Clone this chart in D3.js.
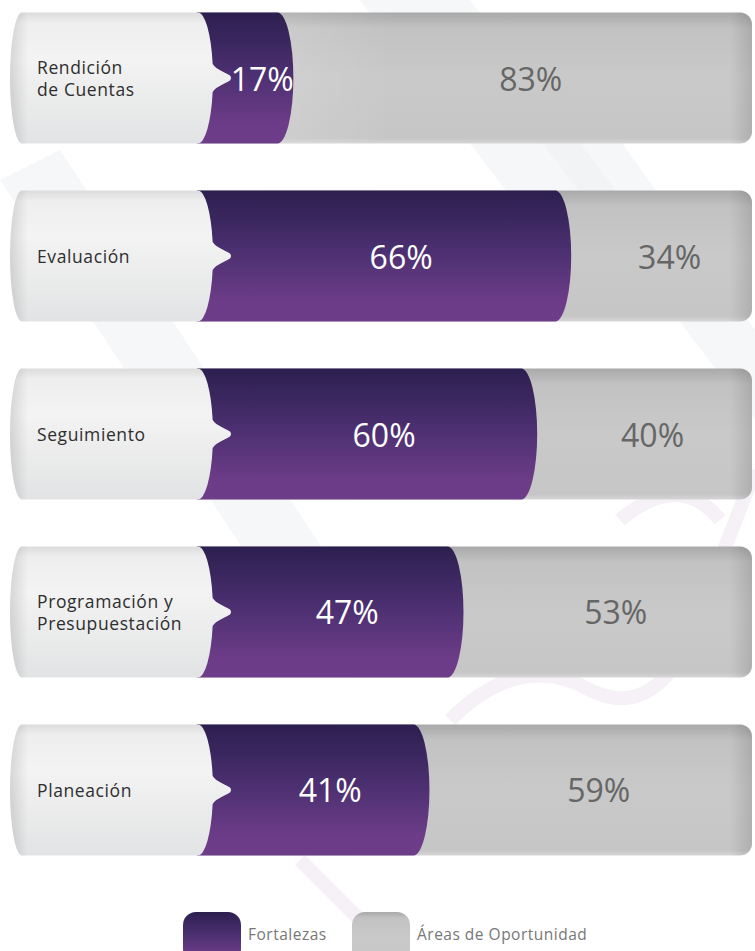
<!DOCTYPE html>
<html>
<head>
<meta charset="utf-8">
<script src="https://cdn.jsdelivr.net/npm/d3@7"></script>
<style>
  body { margin: 0; background: #fff; }
  svg { display: block; }
</style>
</head>
<body>
<svg id="chart"></svg>
<script>
// data
const categories = ["Rendición de Cuentas", "Evaluación", "Seguimiento", "Programación y Presupuestación", "Planeación"];
const labelLines = [["Rendición", "de Cuentas"], ["Evaluación"], ["Seguimiento"], ["Programación y", "Presupuestación"], ["Planeación"]];
const fortalezas = [17, 66, 60, 47, 41];
const oportunidad = [83, 34, 40, 53, 59];
const legendLabels = ["Fortalezas", "Áreas de Oportunidad"];

const width = 755, height = 951;
const svg = d3.select("#chart").attr("width", width).attr("height", height);

const y = d3.scaleBand().domain(categories).range([12.5, 855.5]).paddingInner(0.264).paddingOuter(0);
const x = d3.scaleLinear().domain([0, 100]).range([197, 764]);
const xEnd = 752;      // right edge of the gray track
const capLeft = 10;
const endRx = 16;      // curvature of the purple end
const tipX = x(0) + 34;

const defs = svg.append("defs");
function grad(id, stops, vertical = true) {
    let g = defs.append("linearGradient").attr("id", id)
        .attr("x1", 0).attr("y1", 0).attr("x2", vertical ? 0 : 1).attr("y2", vertical ? 1 : 0);
    stops.forEach(s => g.append("stop").attr("offset", s[0]).attr("stop-color", s[1]).attr("stop-opacity", s[2] == null ? 1 : s[2]));
}
grad("purpleGrad", [[0, "#2c1f4f"], [0.45, "#4b2f70"], [0.85, "#6c3c88"], [1, "#6e3d89"]]);
grad("grayGrad", [[0, "#a9a9a9"], [0.12, "#c2c2c2"], [0.5, "#c9c9c9"], [0.96, "#c6c6c6"], [1, "#d6d6d6"]]);
grad("grayShade", [[0, "#ffffff", 0.25], [0.35, "#ffffff", 0], [0.96, "#000000", 0], [1, "#000000", 0.12]], false);
grad("capGrad", [[0, "#dcdcdc"], [0.08, "#eeeeee"], [0.35, "#f3f3f3"], [1, "#e2e3e4"]]);
grad("capShade", [[0, "#000000", 0.12], [0.08, "#000000", 0], [1, "#000000", 0]], false);

// faint background watermark
const bg = svg.append("g");
[[[360, 0], [470, 0], [700, 300], [590, 300]],
 [[0, 180], [60, 150], [330, 560], [270, 590]],
 [[540, 140], [620, 140], [755, 330], [755, 420]]].forEach(p => {
    bg.append("path").attr("d", d3.line()(p) + "Z").attr("fill", "#eef0f2").attr("opacity", 0.5);
});
bg.append("path")
    .attr("d", "M 300 860 L 380 940 M 450 720 Q 520 650 590 690 Q 650 720 690 640 Q 720 560 755 470")
    .attr("fill", "none").attr("stroke", "#e8dfec").attr("stroke-width", 14).attr("opacity", 0.45);
bg.append("path")
    .attr("d", "M 620 520 Q 680 470 720 520")
    .attr("fill", "none").attr("stroke", "#e8dfec").attr("stroke-width", 14).attr("opacity", 0.45);

const rows = svg.append("g").selectAll("g.row")
    .data(categories.map((c, i) => ({ cat: c, lines: labelLines[i], f: fortalezas[i], o: oportunidad[i] })))
    .join("g").attr("class", "row");

// gray track
function trackPath(d) {
    let t = y(d.cat), b = t + y.bandwidth(), r = 12, x0 = x(0);
    return `M${x0},${t} H${xEnd - r} A${r},${r} 0 0 1 ${xEnd},${t + r} V${b - r} A${r},${r} 0 0 1 ${xEnd - r},${b} H${x0} Z`;
}
rows.append("path").attr("d", trackPath).attr("fill", "url(#grayGrad)");
rows.append("path").attr("d", trackPath).attr("fill", "url(#grayShade)");

// purple bar with rounded cylinder end
rows.append("path")
    .attr("d", d => {
        let t = y(d.cat), b = t + y.bandwidth(), ry = y.bandwidth() / 2, xv = x(d.f);
        return `M${x(0)},${t} H${xv - endRx} A${endRx},${ry} 0 0 1 ${xv - endRx},${b} H${x(0)} Z`;
    })
    .attr("fill", "url(#purpleGrad)");

// label cap with pointer
function capPath(d) {
    let t = y(d.cat), h = y.bandwidth(), b = t + h, m = t + h / 2, ry = h / 2;
    let cx = x(0) + 1, rx = 15, dy = 14;
    let px = cx + rx * Math.sqrt(1 - (dy / ry) ** 2);
    return `M${capLeft + 12},${t} H${cx} A${rx},${ry} 0 0 1 ${px},${m - dy}` +
        ` C${px + 4},${m - 8} ${tipX - 8},${m - 7} ${tipX - 1},${m - 2.5} Q${tipX + 1},${m} ${tipX - 1},${m + 2.5}` +
        ` C${tipX - 8},${m + 7} ${px + 4},${m + 8} ${px},${m + dy}` +
        ` A${rx},${ry} 0 0 1 ${cx},${b} H${capLeft + 12} A12,${ry} 0 0 1 ${capLeft + 12},${t} Z`;
}
rows.append("path").attr("d", capPath).attr("fill", "url(#capGrad)");
rows.append("path").attr("d", capPath).attr("fill", "url(#capShade)");

// category labels
rows.append("text")
    .attr("x", 37)
    .attr("y", d => y(d.cat) + y.bandwidth() / 2 - (d.lines.length - 1) * 11)
    .attr("font-family", "'Open Sans', sans-serif").attr("font-size", 17.5)
    .attr("letter-spacing", 0.6).attr("fill", "#2e2e2e").attr("dominant-baseline", "central")
    .selectAll("tspan").data(d => d.lines).join("tspan")
    .attr("x", 37).attr("dy", (l, i) => i ? 22 : 0).text(l => l);

// percentages
rows.append("text")
    .attr("x", d => (tipX + x(d.f)) / 2)
    .attr("y", d => y(d.cat) + y.bandwidth() / 2)
    .attr("text-anchor", "middle").attr("dominant-baseline", "central")
    .attr("font-family", "'Open Sans', sans-serif").attr("font-size", 32)
    .attr("fill", "#ffffff").text(d => d.f + "%");
rows.append("text")
    .attr("x", d => (x(d.f) + endRx + xEnd) / 2)
    .attr("y", d => y(d.cat) + y.bandwidth() / 2)
    .attr("text-anchor", "middle").attr("dominant-baseline", "central")
    .attr("font-family", "'Open Sans', sans-serif").attr("font-size", 32)
    .attr("fill", "#666666").text(d => d.o + "%");

// legend
const legendX = d3.scalePoint().domain(legendLabels).range([183, 352]);
const legendFill = ["url(#purpleGrad)", "url(#grayGrad)"];
const lg = svg.append("g").selectAll("g").data(legendLabels).join("g")
    .attr("transform", d => `translate(${legendX(d)},912)`);
lg.append("rect").attr("width", 58).attr("height", 50).attr("rx", 13)
    .attr("fill", (d, i) => legendFill[i]);
lg.append("text").attr("x", 65).attr("y", 22)
    .attr("dominant-baseline", "central")
    .attr("font-family", "'Open Sans', sans-serif").attr("font-size", 15.5)
    .attr("letter-spacing", 0.5).attr("fill", "#777777").text(d => d);
</script>
</body>
</html>
